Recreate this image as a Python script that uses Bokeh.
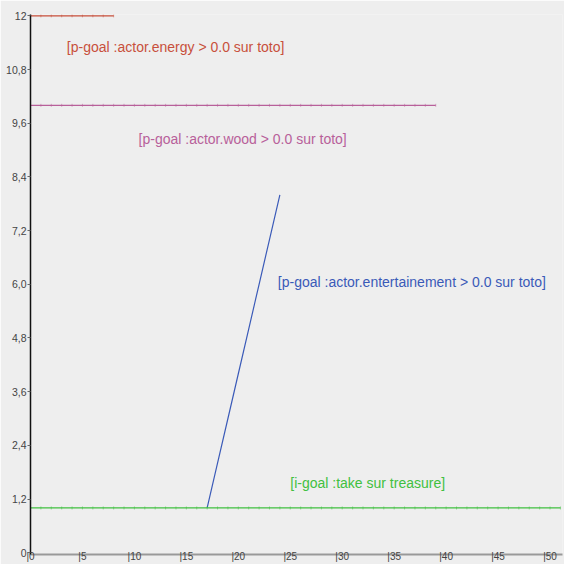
import math
from bokeh.plotting import figure
from bokeh.models import Range1d, FixedTicker
from bokeh.core.properties import value
from bokeh.embed import file_html
from bokeh.resources import INLINE

# ---- data ----
energy_x = list(range(0, 9))
energy_y = [12] * 9
wood_x = list(range(0, 40))
wood_y = [10] * 40
ent_x = [17, 18, 19, 20, 21, 22, 23, 24]
ent_y = [1, 2, 3, 4, 5, 6, 7, 8]
take_x = list(range(0, 52))
take_y = [1] * 52

labels = [
    "[p-goal :actor.energy > 0.0 sur toto]",
    "[p-goal :actor.wood > 0.0 sur toto]",
    "[p-goal :actor.entertainement > 0.0 sur toto]",
    "[i-goal :take sur treasure]",
]
label_x = [3.5, 10.4, 23.8, 25.0]
label_y = [11.3, 9.24, 6.05, 1.56]
colors = ["#c8503c", "#b8609a", "#3a5ab8", "#40c040"]

y_ticks = [0, 1.2, 2.4, 3.6, 4.8, 6.0, 7.2, 8.4, 9.6, 10.8, 12]
y_tick_labels = ["0", "1,2", "2,4", "3,6", "4,8", "6,0", "7,2", "8,4", "9,6", "10,8", "12"]
x_ticks = [0, 5, 10, 15, 20, 25, 30, 35, 40, 45, 50]
x_tick_labels = ["|" + str(t) for t in x_ticks]

BG = "#eeeeee"
FONT = "Liberation Sans"

p = figure(width=564, height=564, output_backend="svg", toolbar_location=None,
           x_range=Range1d(0, 51.2), y_range=Range1d(-0.04, 12.03),
           min_border_left=30, min_border_top=14, min_border_right=2, min_border_bottom=0)
p.background_fill_color = BG
p.border_fill_color = BG
p.outline_line_color = None
p.xgrid.visible = False
p.ygrid.visible = False

# axes
p.yaxis.ticker = FixedTicker(ticks=y_ticks)
p.yaxis.major_label_overrides = dict(zip(y_ticks, y_tick_labels))
p.yaxis.axis_line_color = "#111111"
p.yaxis.axis_line_width = 1.5
p.yaxis.major_tick_in = 0
p.yaxis.major_tick_out = 3
p.yaxis.major_tick_line_color = "#666666"
p.yaxis.minor_tick_line_color = None
p.yaxis.major_label_standoff = 1
p.yaxis.major_label_text_font = FONT
p.yaxis.major_label_text_font_size = "10.5px"
p.yaxis.major_label_text_color = "#444444"

p.xaxis.ticker = FixedTicker(ticks=x_ticks)
p.xaxis.major_label_overrides = dict(zip(x_ticks, x_tick_labels))
p.xaxis.axis_line_color = "#999999"
p.xaxis.axis_line_width = 2
p.xaxis.major_tick_in = 0
p.xaxis.major_tick_out = 0
p.xaxis.minor_tick_line_color = None
p.xaxis.major_label_standoff = -4
p.xaxis.major_label_text_font = FONT
p.xaxis.major_label_text_font_size = "10px"
p.xaxis.major_label_text_color = "#444444"
p.xaxis.major_label_text_align = "left"

# lines
series = [(energy_x, energy_y), (wood_x, wood_y), (ent_x, ent_y), (take_x, take_y)]
for i, (xs, ys) in enumerate(series):
    p.line(xs, ys, line_color=colors[i], line_width=1.2)
    if i != 2:
        p.scatter(xs, ys, marker="dash", angle=math.pi / 2, size=3,
                  line_color=colors[i], line_alpha=0.5, line_width=1)

# labels
p.text(x=label_x, y=label_y, text=labels, text_color=colors,
       text_font=value(FONT), text_font_size="14px",
       text_align="left", text_baseline="middle")

open("out.html", "w").write(file_html(p, INLINE))
